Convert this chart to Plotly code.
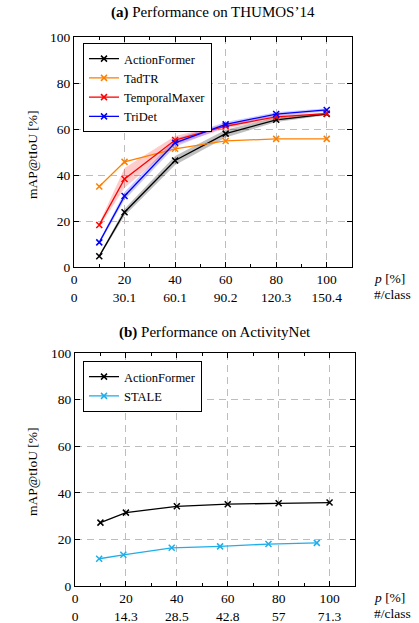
import plotly.graph_objects as go

# ---------------- data ----------------
p_top = [10, 20, 40, 60, 80, 100]
af_top = [4.7, 23.8, 46.3, 58.0, 64.0, 66.5]
af_top_lo = [4.2, 22.3, 44.3, 56.3, 63.0, 66.0]
af_top_hi = [5.2, 25.3, 48.3, 59.7, 65.0, 67.0]
tadtr_top = [35.0, 45.7, 51.4, 54.8, 55.7, 55.7]
tm_top = [18.3, 38.3, 55.2, 61.2, 65.3, 66.7]
tm_top_lo = [17.5, 34.5, 53.2, 60.2, 64.5, 66.2]
tm_top_hi = [19.1, 43.0, 57.0, 62.2, 66.1, 67.2]
tridet_top = [10.7, 30.9, 54.0, 62.0, 66.5, 68.3]
tridet_top_lo = [10.0, 29.2, 52.3, 61.0, 65.7, 67.6]
tridet_top_hi = [11.4, 32.6, 55.7, 63.0, 67.3, 69.0]

p_bot_af = [10, 20, 40, 60, 80, 100]
af_bot = [27.2, 31.5, 34.2, 35.1, 35.5, 35.8]
p_bot_stale = [9.5, 19, 38, 57, 76, 95]
stale_bot = [11.7, 13.4, 16.4, 17.0, 18.0, 18.5]

x_tickvals = [0, 20, 40, 60, 80, 100]
p_ticks = ["0", "20", "40", "60", "80", "100"]
cls_ticks_top = ["0", "30.1", "60.1", "90.2", "120.3", "150.4"]
cls_ticks_bot = ["0", "14.3", "28.5", "42.8", "57", "71.3"]
y_tickvals = [0, 20, 40, 60, 80, 100]

W, H = 419, 623
FONT = "Liberation Serif, Times New Roman, DejaVu Serif, serif"
FS = 13.5
FS_LEG = 12.5

C_AF = "#000000"
C_TAD = "#ff8000"
C_TM = "#ff0000"
C_TRI = "#0000ff"
C_STALE = "#1faeea"


def px_x(v):
    return v / W


def px_y(v):
    return 1 - v / H


fig = go.Figure()


def band(x, lo, hi, color, xa, ya):
    fig.add_trace(go.Scatter(
        x=list(x) + list(x)[::-1], y=list(hi) + list(lo)[::-1],
        fill="toself", fillcolor=color, line=dict(width=0),
        mode="lines", showlegend=False, hoverinfo="skip",
        xaxis=xa, yaxis=ya))


def line(x, y, name, color, xa, ya, legend):
    fig.add_trace(go.Scatter(
        x=x, y=y, name=name, mode="lines+markers",
        line=dict(color=color, width=1.3),
        marker=dict(symbol="x-thin", size=6, line=dict(width=1.5, color=color), color=color),
        xaxis=xa, yaxis=ya, legend=legend))


# bands (top)
band(p_top, af_top_lo, af_top_hi, "rgba(0,0,0,0.25)", "x", "y")
band(p_top, tm_top_lo, tm_top_hi, "rgba(255,0,0,0.2)", "x", "y")
band(p_top, tridet_top_lo, tridet_top_hi, "rgba(0,0,255,0.2)", "x", "y")

line(p_top, af_top, "ActionFormer", C_AF, "x", "y", "legend")
line(p_top, tadtr_top, "TadTR", C_TAD, "x", "y", "legend")
line(p_top, tm_top, "TemporalMaxer", C_TM, "x", "y", "legend")
line(p_top, tridet_top, "TriDet", C_TRI, "x", "y", "legend")

line(p_bot_af, af_bot, "ActionFormer", C_AF, "x2", "y2", "legend2")
line(p_bot_stale, stale_bot, "STALE", C_STALE, "x2", "y2", "legend2")

axis_common = dict(
    showline=True, linecolor="black", linewidth=1.3, mirror="allticks",
    ticks="inside", ticklen=5, tickcolor="black", tickwidth=1,
    showgrid=True, gridcolor="#bdbdbd", gridwidth=1.3, griddash="7px,5px",
    zeroline=False, automargin=False,
    tickfont=dict(family=FONT, size=FS, color="black"),
)

xa_common = dict(axis_common, range=[0, 110], tickmode="array", tickvals=x_tickvals,
                 minor=dict(ticks="inside", ticklen=3, dtick=10, tick0=0, tickcolor="black", showgrid=False))
ya_common = dict(axis_common, range=[0, 100], tickmode="array", tickvals=y_tickvals,
                 ticktext=[str(v) for v in y_tickvals])

leg_common = dict(xanchor="left", yanchor="top", bordercolor="black", borderwidth=1,
                  bgcolor="white", font=dict(family=FONT, size=FS_LEG), tracegroupgap=0,
                  itemwidth=30)

fig.update_layout(
    width=W, height=H, margin=dict(l=0, r=0, t=0, b=0, autoexpand=False),
    paper_bgcolor="white", plot_bgcolor="white",
    font=dict(family=FONT, size=FS, color="black"),
    xaxis=dict(xa_common, domain=[px_x(74), px_x(352)], anchor="y",
               ticktext=[a + "<br>" + b for a, b in zip(p_ticks, cls_ticks_top)]),
    yaxis=dict(ya_common, domain=[px_y(267), px_y(37)], anchor="x"),
    xaxis2=dict(xa_common, domain=[px_x(75), px_x(355)], anchor="y2",
                ticktext=[a + "<br>" + b for a, b in zip(p_ticks, cls_ticks_bot)]),
    yaxis2=dict(ya_common, domain=[px_y(586), px_y(353)], anchor="x2"),
    legend=dict(leg_common, x=px_x(83), y=px_y(43)),
    legend2=dict(leg_common, x=px_x(83), y=px_y(361)),
    showlegend=True,
)

ann = []
ann.append(dict(text="<b>(a)</b> Performance on THUMOS’14", x=px_x(213), y=px_y(13),
                xanchor="center", yanchor="middle",
                xref="paper", yref="paper", showarrow=False, font=dict(size=15)))
ann.append(dict(text="<b>(b)</b> Performance on ActivityNet", x=px_x(215), y=px_y(332),
                xanchor="center", yanchor="middle",
                xref="paper", yref="paper", showarrow=False, font=dict(size=15)))
for yc in (155, 472):
    ann.append(dict(text="mAP@tIoU [%]", x=px_x(32), y=px_y(yc), xref="paper", yref="paper",
                    xanchor="center", yanchor="middle",
                    showarrow=False, textangle=-90, font=dict(size=FS)))
for y1, y2 in ((278, 294), (597, 613)):
    ann.append(dict(text="<i>p</i> [%]", x=px_x(372), y=px_y(y1), xref="paper", yref="paper",
                    xanchor="left", yanchor="middle", showarrow=False, font=dict(size=FS)))
    ann.append(dict(text="#/class", x=px_x(372), y=px_y(y2), xref="paper", yref="paper",
                    xanchor="left", yanchor="middle", showarrow=False, font=dict(size=FS)))
fig.update_layout(annotations=ann)

fig.write_html("out.html", config={"displayModeBar": False},
               post_script="document.body.style.margin='0px';")
